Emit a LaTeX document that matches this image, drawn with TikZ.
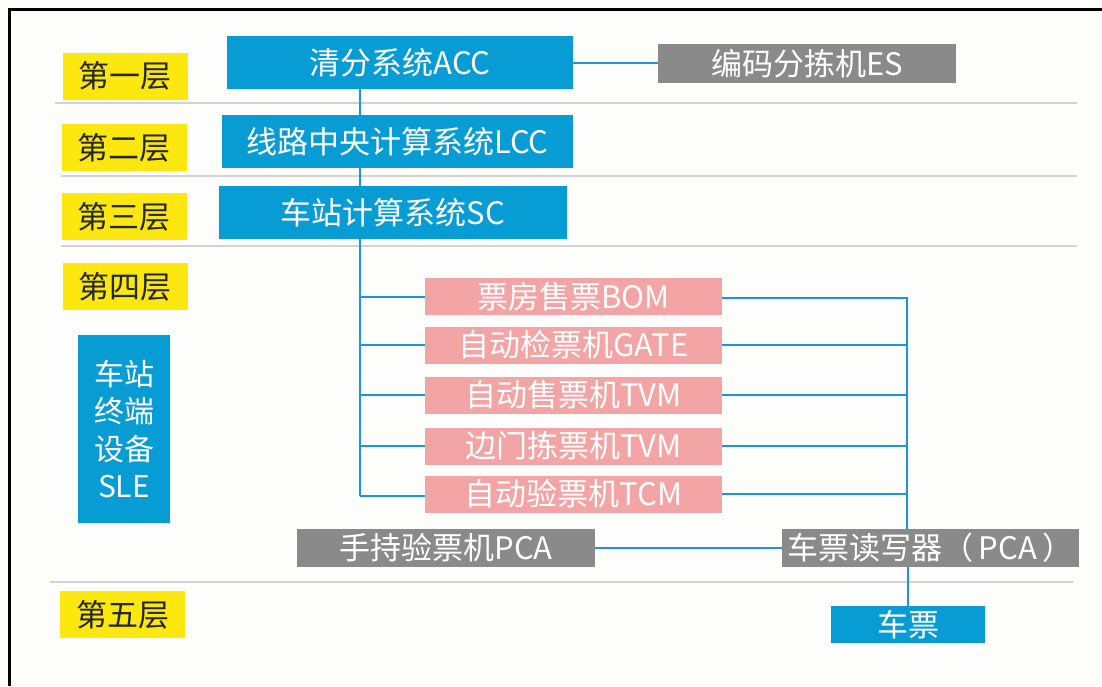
\documentclass[tikz,border=0pt]{standalone}
\usepackage{fontspec}
\setmainfont{Noto Sans CJK SC}
\pgfdeclarelayer{bg}
\pgfdeclarelayer{lines}
\pgfsetlayers{bg,lines,main}
\definecolor{cblue}{RGB}{8,156,212}
\definecolor{cline}{RGB}{30,150,210}
\definecolor{cpink}{RGB}{243,164,164}
\definecolor{cgray}{RGB}{138,138,138}
\definecolor{cyel}{RGB}{252,232,14}
\definecolor{csep}{RGB}{210,210,210}
\definecolor{cbg}{RGB}{253,253,251}
\tikzset{
  box/.style={inner sep=0pt, text=white, font=\fontsize{31}{34}\selectfont, anchor=center},
  bluebox/.style={box, fill=cblue},
  pinkbox/.style={box, fill=cpink},
  graybox/.style={box, fill=cgray},
  layerbox/.style={box, fill=cyel, text=black!85, minimum width=125pt, minimum height=47pt},
  conn/.style={draw=cline, line width=2pt},
  sepline/.style={draw=csep, line width=2pt},
}
\begin{document}
\begin{tikzpicture}[x=1pt,y=-1pt]
\begin{pgfonlayer}{bg}
\fill[cbg] (0,0) rectangle (1102,686);
\useasboundingbox (0,0) rectangle (1102,686);
\draw[black, line width=3pt] (9,686) -- (9,9) -- (1102,9);
\draw[sepline] (55,103) -- (1077,103);
\draw[sepline] (61,176) -- (1077,176);
\draw[sepline] (61,246) -- (1077,246);
\draw[sepline] (50,582) -- (1073,582);
\end{pgfonlayer}

% layer labels
\node[layerbox] (l1) at (125,76) {第一层};
\node[layerbox] (l2) at (124,147.5) {第二层};
\node[layerbox] (l3) at (124,216.5) {第三层};
\node[layerbox] (l4) at (125,286.5) {第四层};
\node[layerbox] (l5) at (122.5,614.5) {第五层};

% upper systems
\node[bluebox, minimum width=346pt, minimum height=53pt] (acc) at (400,62.5) {清分系统ACC};
\node[graybox, minimum width=298pt, minimum height=39pt] (es) at (807,63.5) {编码分拣机ES};
\node[bluebox, minimum width=351pt, minimum height=53pt] (lcc) at (397.5,141.5) {线路中央计算系统LCC};
\node[bluebox, minimum width=348pt, minimum height=53pt] (sc) at (393,212.5) {车站计算系统SC};

% SLE
\node[bluebox, minimum width=92pt, minimum height=188pt, align=center, font=\fontsize{30}{37.5}\selectfont] (sle) at (124,429) {车站\\终端\\设备\\SLE};

% terminal devices
\node[pinkbox, minimum width=297pt, minimum height=37pt] (bom) at (573.5,296.5) {票房售票BOM};
\node[pinkbox, minimum width=297pt, minimum height=37pt] (gate) at (573.5,345) {自动检票机GATE};
\node[pinkbox, minimum width=297pt, minimum height=37pt] (tvm) at (573.5,395) {自动售票机TVM};
\node[pinkbox, minimum width=297pt, minimum height=37pt] (tvm2) at (573.5,446) {边门拣票机TVM};
\node[pinkbox, minimum width=297pt, minimum height=37pt] (tcm) at (573.5,494) {自动验票机TCM};

% readers
\node[graybox, minimum width=298pt, minimum height=38pt] (pca) at (446,548) {手持验票机PCA};
\node[graybox, minimum width=297pt, minimum height=38pt] (reader) at (930.5,548) {车票读写器（\hspace{5pt}PCA\hspace{5pt}）};
\node[bluebox, minimum width=154pt, minimum height=37pt] (ticket) at (908,624.5) {车票};

\coordinate (vb) at (360,496);
\coordinate (rv) at (907,298);

\begin{pgfonlayer}{lines}
\draw[conn] (acc.east) -- (acc.east -| es.west);
\draw[conn] (vb |- acc.south) -- (vb);
\draw[conn] (vb |- bom.west) -- (bom.west);
\draw[conn] (vb |- gate.west) -- (gate.west);
\draw[conn] (vb |- tvm.west) -- (tvm.west);
\draw[conn] (vb |- tvm2.west) -- (tvm2.west);
\draw[conn] (vb) -- (tcm.west |- vb);
\draw[conn] (bom.east |- rv) -- (rv) -- (rv |- reader.north);
\draw[conn] (gate.east) -- (gate.east -| rv);
\draw[conn] (tvm.east) -- (tvm.east -| rv);
\draw[conn] (tvm2.east) -- (tvm2.east -| rv);
\draw[conn] (tcm.east) -- (tcm.east -| rv);
\draw[conn] (pca.east) -- (reader.west);
\draw[conn] (ticket.north |- reader.south) -- (ticket.north);
\end{pgfonlayer}
\end{tikzpicture}
\end{document}
